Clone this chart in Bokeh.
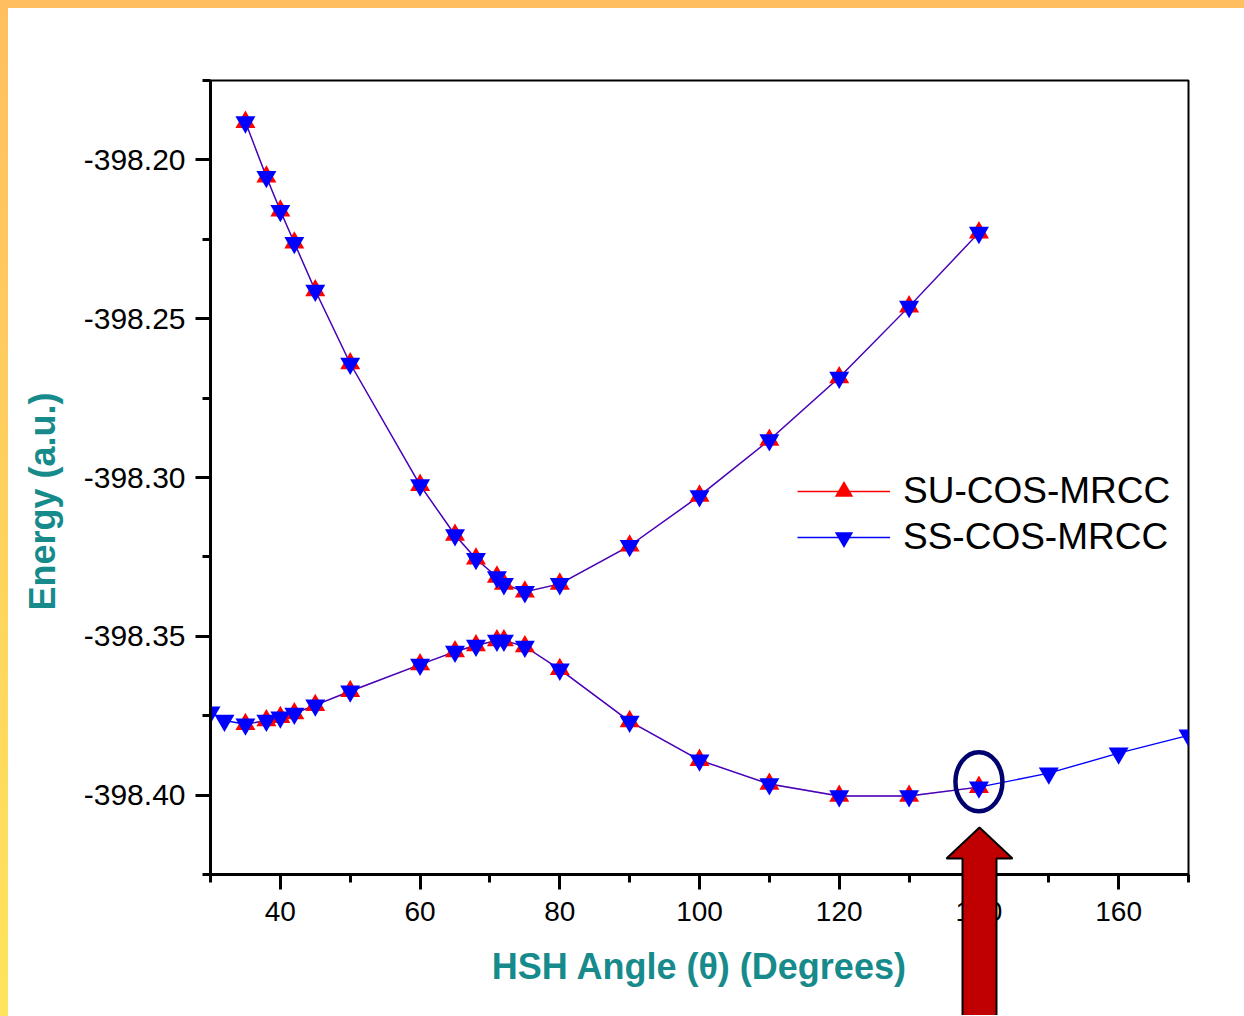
from bokeh.plotting import figure
from bokeh.models import (FixedTicker, PrintfTickFormatter, Legend, LegendItem, Range1d, Title, Div)
from bokeh.embed import file_html
from bokeh.resources import INLINE

# ---------------- data ----------------
angles_common = [35, 38, 40, 42, 45, 50, 60, 65, 68, 71, 72, 75, 80, 90, 100, 110, 120, 130, 140]

su_upper = [-398.1881, -398.2053, -398.2160, -398.2261, -398.2411, -398.2641, -398.3024,
            -398.3181, -398.3256, -398.3313, -398.3335, -398.3360, -398.3335, -398.3215,
            -398.3058, -398.2882, -398.2685, -398.2462, -398.2229]
ss_upper = [-398.1881, -398.2053, -398.2160, -398.2261, -398.2411, -398.2641, -398.3024,
            -398.3181, -398.3256, -398.3313, -398.3335, -398.3360, -398.3335, -398.3215,
            -398.3058, -398.2882, -398.2685, -398.2462, -398.2229]

su_lower = [-398.3777, -398.3765, -398.3755, -398.3743, -398.3717, -398.3673, -398.3589,
            -398.3548, -398.3529, -398.3513, -398.3513, -398.3532, -398.3604, -398.3768,
            -398.3890, -398.3965, -398.4003, -398.4003, -398.3975]

angles_ss_lower = [30, 32, 35, 38, 40, 42, 45, 50, 60, 65, 68, 71, 72, 75, 80, 90, 100,
                   110, 120, 130, 140, 150, 160, 170]
ss_lower = [-398.3739, -398.3765, -398.3777, -398.3765, -398.3755, -398.3743, -398.3717,
            -398.3673, -398.3589, -398.3548, -398.3529, -398.3513, -398.3513, -398.3532,
            -398.3604, -398.3768, -398.3890, -398.3965, -398.4003, -398.4003, -398.3975,
            -398.3931, -398.3868, -398.3812]

x_major = [40, 60, 80, 100, 120, 140, 160]
x_minor = [30, 50, 70, 90, 110, 130, 150, 170]
y_major = [-398.40, -398.35, -398.30, -398.25, -398.20]
y_minor = [-398.425, -398.375, -398.325, -398.275, -398.225, -398.175]

series_names = ["SU-COS-MRCC", "SS-COS-MRCC"]
x_title = "HSH Angle (θ) (Degrees)"
y_title = "Energy (a.u.)"

highlight_angle = 140
highlight_energy = -398.3958

# ---------------- styling ----------------
RED = "#ff0000"
BLUE = "#0000ff"
TEAL = "#178b8b"
FONT = "Liberation Sans"
NAN = [float("nan")]

p = figure(width=1240, height=1012, output_backend="svg", toolbar_location=None,
           x_range=Range1d(30, 170), y_range=Range1d(-398.425, -398.175),
           min_border_left=210, min_border_right=52, min_border_top=80,
           min_border_bottom=138)
p.background_fill_color = "white"
p.border_fill_color = "white"
p.outline_line_color = "black"
p.outline_line_width = 2
p.xgrid.visible = False
p.ygrid.visible = False

# lines: blue underneath, translucent red on top gives the purple overlap
p.line(angles_common, ss_upper, line_color=BLUE, line_width=1.4)
p.line(angles_ss_lower, ss_lower, line_color=BLUE, line_width=1.4)
p.line(angles_common, su_upper, line_color=RED, line_width=1.4, line_alpha=0.3)
p.line(angles_common, su_lower, line_color=RED, line_width=1.4, line_alpha=0.3)

# markers
p.scatter(angles_common, su_upper, marker="triangle", size=20,
          fill_color=RED, line_color=RED, line_width=0)
p.scatter(angles_common, su_lower, marker="triangle", size=20,
          fill_color=RED, line_color=RED, line_width=0)
p.scatter(angles_common, ss_upper, marker="inverted_triangle", size=20,
          fill_color=BLUE, line_color=BLUE, line_width=0)
p.scatter(angles_ss_lower, ss_lower, marker="inverted_triangle", size=20,
          fill_color=BLUE, line_color=BLUE, line_width=0)

# legend-only renderers (a single NaN point, nothing drawn in the plot)
leg_su_l = p.line(NAN, NAN, line_color=RED, line_width=1.4)
leg_su_m = p.scatter(NAN, NAN, marker="triangle", size=26, fill_color=RED, line_width=0)
leg_ss_l = p.line(NAN, NAN, line_color=BLUE, line_width=1.4)
leg_ss_m = p.scatter(NAN, NAN, marker="inverted_triangle", size=26, fill_color=BLUE, line_width=0)

# highlight ellipse
p.ellipse(x=[highlight_angle], y=[highlight_energy], width=47, height=59,
          width_units="screen", height_units="screen",
          fill_color=None, line_color="#00006e", line_width=4.5)

# axes
p.xaxis.ticker = FixedTicker(ticks=x_major, minor_ticks=x_minor)
p.yaxis.ticker = FixedTicker(ticks=y_major, minor_ticks=y_minor)
p.yaxis.formatter = PrintfTickFormatter(format="%.2f")
for ax in (p.xaxis[0], p.yaxis[0]):
    ax.axis_line_width = 3
    ax.axis_line_color = "black"
    ax.major_tick_line_width = 3
    ax.minor_tick_line_width = 3
    ax.major_tick_out = 15
    ax.major_tick_in = 0
    ax.minor_tick_out = 8
    ax.minor_tick_in = 0
    ax.major_label_text_font = FONT
    ax.major_label_text_color = "black"
    ax.axis_label_text_font = FONT
    ax.axis_label_text_font_size = "36px"
    ax.axis_label_text_font_style = "bold"
    ax.axis_label_text_color = TEAL
p.xaxis.major_label_text_font_size = "28px"
p.yaxis.major_label_text_font_size = "30px"

p.xaxis.axis_label = x_title
p.xaxis.major_label_standoff = 12
p.yaxis.major_label_standoff = 10
p.xaxis.axis_label_standoff = 22

# y-axis title as a left-panel Title so it can sit off-centre like the original
ytitle = Title(text=y_title, align="left", offset=264, standoff=36,
               text_font=FONT, text_font_size="36px", text_font_style="bold",
               text_color=TEAL)
p.add_layout(ytitle, "left")

# legend
legend = Legend(items=[
    LegendItem(label=series_names[0], renderers=[leg_su_l, leg_su_m]),
    LegendItem(label=series_names[1], renderers=[leg_ss_l, leg_ss_m]),
], location=(587, 314))
legend.border_line_color = None
legend.background_fill_alpha = 0
legend.padding = 0
legend.margin = 0
legend.spacing = 0
legend.glyph_width = 93
legend.glyph_height = 46
legend.label_height = 46
legend.label_standoff = 13
legend.label_text_font = FONT
legend.label_text_font_size = "37px"
legend.label_text_color = "black"
p.add_layout(legend)

# ---------------- red arrow overlay (small transparent figure) ----------------
arrow_xs = [39, 72, 56, 56, 22, 22, 6]
arrow_ys = [4, 35, 35, 200, 200, 35, 35]

a = figure(width=76, height=192, output_backend="svg", toolbar_location=None,
           x_range=Range1d(0, 76), y_range=Range1d(192, 0),
           x_axis_location=None, y_axis_location=None, min_border=0,
           styles={"position": "absolute", "left": "940px", "top": "823px"})
a.xgrid.visible = False
a.ygrid.visible = False
a.outline_line_color = None
a.background_fill_alpha = 0
a.border_fill_alpha = 0
a.patch(arrow_xs, arrow_ys, fill_color="#c00000", line_color="black", line_width=2)

# ---------------- slide frame strips (top and left edges) ----------------
top_strip = Div(text="", width=1244, height=8,
                styles={"position": "absolute", "left": "0px", "top": "0px",
                        "background": "#ffbf60", "margin": "0"})
left_strip = Div(text="", width=8, height=1016,
                 styles={"position": "absolute", "left": "0px", "top": "0px",
                         "background": "linear-gradient(#ffbf60, #ffe45c)", "margin": "0"})

open("out.html", "w").write(file_html([p, a, top_strip, left_strip], INLINE))
